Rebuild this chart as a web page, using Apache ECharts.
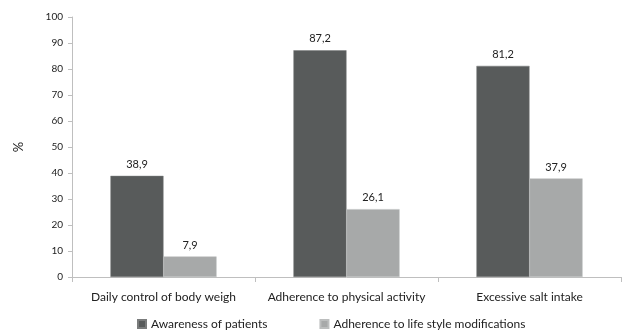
<!DOCTYPE html>
<html>
<head>
<meta charset="utf-8">
<script src="https://cdn.jsdelivr.net/npm/echarts@6/dist/echarts.min.js"></script>
<style>
html,body{margin:0;padding:0;background:#fff;}
#chart{width:638px;height:331px;}
</style>
</head>
<body>
<div id="chart"></div>
<script>
// Categories and series values (%)
const categories = ['Daily control of body weigh', 'Adherence to physical activity', 'Excessive salt intake'];
const awareness = [38.9, 87.2, 81.2];
const adherence = [7.9, 26.1, 37.9];
const seriesNames = ['Awareness of patients', 'Adherence to life style modifications'];
const yTicks = [0, 10, 20, 30, 40, 50, 60, 70, 80, 90, 100];

const font = 'Lato, Open Sans, sans-serif';
const fmt = p => String(p.value).replace('.', ',');

const chart = echarts.init(document.getElementById('chart'), null, { renderer: 'canvas' });
chart.setOption({
  animation: false,
  textStyle: { fontFamily: font },
  grid: { left: 72, right: 17, top: 17, bottom: 54 },
  legend: {
    data: seriesNames,
    top: 313,
    left: 132,
    itemGap: 52,
    itemWidth: 8,
    itemHeight: 8,
    icon: 'rect',
    textStyle: { fontSize: 12, color: '#222', fontFamily: font }
  },
  xAxis: {
    type: 'category',
    data: categories,
    axisLine: { lineStyle: { color: '#bfbfbf' } },
    axisTick: { show: true, alignWithLabel: false, length: 5, lineStyle: { color: '#bfbfbf' } },
    axisLabel: { interval: 0, fontSize: 12, color: '#222', margin: 14, fontFamily: font }
  },
  yAxis: {
    type: 'value',
    min: yTicks[0],
    max: yTicks[yTicks.length - 1],
    interval: 10,
    name: '%',
    nameLocation: 'middle',
    nameGap: 47,
    nameTextStyle: { fontSize: 13, color: '#222', fontFamily: font },
    axisLine: { show: true, lineStyle: { color: '#bfbfbf' } },
    axisTick: { show: true, length: 4, lineStyle: { color: '#bfbfbf' } },
    splitLine: { show: false },
    axisLabel: { fontSize: 10, color: '#222', margin: 9, fontFamily: font }
  },
  series: [
    {
      name: seriesNames[0],
      type: 'bar',
      data: awareness,
      barGap: '0%',
      barCategoryGap: '42%',
      itemStyle: { color: '#585b5b', borderColor: '#7a7c7c', borderWidth: 0.5 },
      label: { show: true, position: 'top', formatter: fmt, fontSize: 11, color: '#222', distance: 6 }
    },
    {
      name: seriesNames[1],
      type: 'bar',
      data: adherence,
      itemStyle: { color: '#a7a9a9', borderColor: '#bcbebe', borderWidth: 0.5 },
      label: { show: true, position: 'top', formatter: fmt, fontSize: 11, color: '#222', distance: 6 }
    }
  ]
});
</script>
</body>
</html>
